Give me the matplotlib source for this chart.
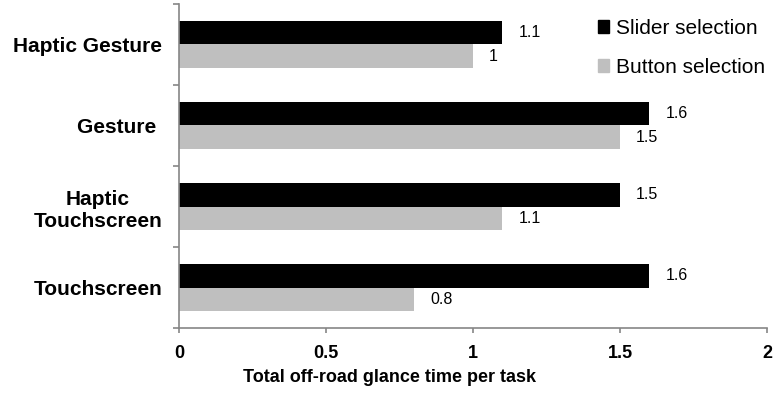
import numpy as np
import matplotlib.pyplot as plt
from matplotlib.patches import Patch

plt.rcParams['font.family'] = ['Liberation Sans', 'DejaVu Sans']

# glance time per interface, two selection styles
interfaces = ['Haptic Gesture', 'Gesture ', 'Haptic\nTouchscreen', 'Touchscreen']
slider = [1.1, 1.6, 1.5, 1.6]
button = [1.0, 1.5, 1.1, 0.8]
xticks = [0, 0.5, 1, 1.5, 2]
xtick_labels = ['0', '0.5', '1', '1.5', '2']

axis_grey = '#868686'
bar_h = 0.29

fig = plt.figure(figsize=(7.79, 3.95), dpi=100)
ax = fig.add_axes([0.2298, 0.1696, 0.9846 - 0.2298, 0.9899 - 0.1696])

pos = np.arange(len(interfaces))
ax.barh(pos - bar_h / 2, slider, height=bar_h, color='black', label='Slider selection')
ax.barh(pos + bar_h / 2, button, height=bar_h, color='#bfbfbf', label='Button selection')

# value labels just past each bar end
for p, v in zip(pos, slider):
    ax.annotate('{:g}'.format(v), (v, p - bar_h / 2), xytext=(11.5, 0), textcoords='offset points',
                va='center', ha='left', fontsize=11.5)
for p, v in zip(pos, button):
    ax.annotate('{:g}'.format(v), (v, p + bar_h / 2), xytext=(11.5, 0), textcoords='offset points',
                va='center', ha='left', fontsize=11.5)

ax.set_xlim(0, 2)
ax.set_ylim(3.5, -0.5)

ax.set_xticks(xticks)
ax.set_xticklabels(xtick_labels, fontsize=13, fontweight='bold')
ax.set_yticks(pos)
ax.set_yticklabels(interfaces, fontsize=15, fontweight='bold', multialignment='center')
ax.set_yticks(np.arange(-0.5, 4, 1), minor=True)
ax.tick_params(axis='y', which='major', length=0, pad=12)
ax.tick_params(axis='y', which='minor', length=4.5, width=1.2, color=axis_grey, direction='out')
ax.tick_params(axis='x', length=3.5, width=1.2, color=axis_grey, direction='out', pad=9)

# axis title sits centred on the whole figure
fig.text(0.5, 1 - 377 / 395, 'Total off-road glance time per task', fontsize=13,
         fontweight='bold', ha='center', va='center')

for side in ['top', 'right']:
    ax.spines[side].set_visible(False)
for side in ['left', 'bottom']:
    ax.spines[side].set_color(axis_grey)
    ax.spines[side].set_linewidth(1.2)

handles = [Patch(color='black', label='Slider selection'),
           Patch(color='#bfbfbf', label='Button selection')]
ax.legend(handles=handles, loc='upper left', bbox_to_anchor=(598 / 779, 1 - 19 / 395),
          bbox_transform=fig.transFigure, frameon=False, fontsize=15, borderpad=0,
          handlelength=0.55, handleheight=0.55, handletextpad=0.3, labelspacing=0.95,
          borderaxespad=0)

fig.savefig('out.png', dpi=100)
